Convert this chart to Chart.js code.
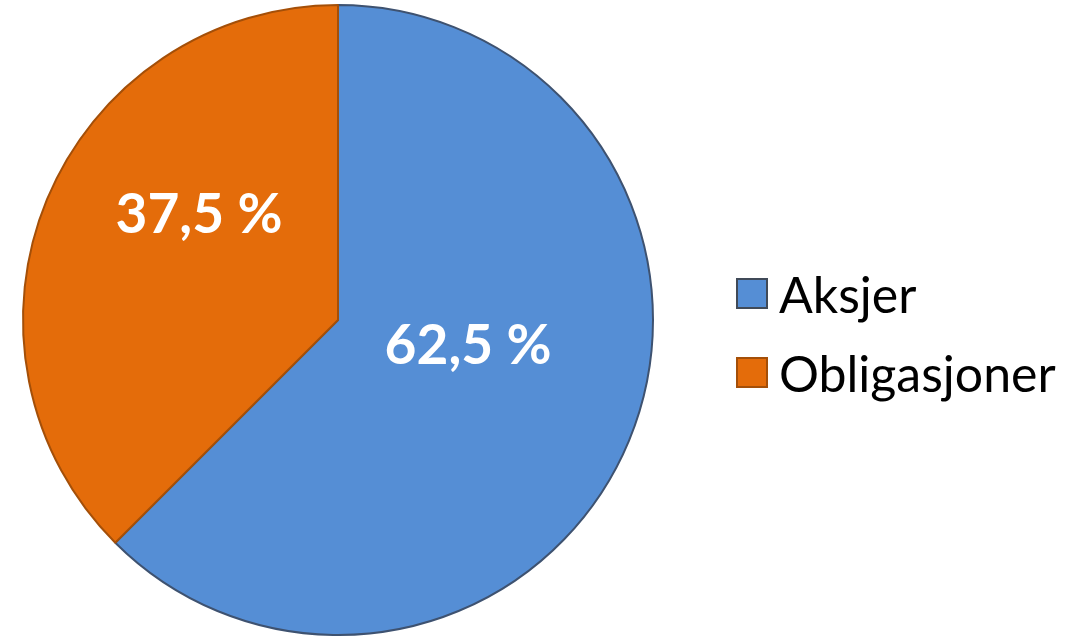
<!DOCTYPE html>
<html>
<head>
<meta charset="utf-8">
<script src="https://cdn.jsdelivr.net/npm/chart.js@4.4.0/dist/chart.umd.min.js"></script>
<style>
  html, body { margin: 0; padding: 0; background: #fff; }
  #wrap { position: relative; width: 1082px; height: 636px; }
  #legend { position: absolute; left: 736px; top: 254px; font-family: Lato, "Open Sans", sans-serif; font-size: 50px; color: #000; }
  #legend .item { display: flex; align-items: center; height: 79px; }
  #legend .box { width: 28px; height: 27px; border: 2px solid #404040; margin-right: 11px; flex: none; }
</style>
</head>
<body>
<div id="wrap">
  <canvas id="pieChart"></canvas>
  <div id="legend"></div>
</div>
<script>
const categories = ['Aksjer', 'Obligasjoner'];
const shares = [62.5, 37.5];
const sliceLabels = ['62,5 %', '37,5 %'];

const sliceColors = ['#558ed5', '#e46c0a'];
const sliceBorders = ['#3e5270', '#a44f08'];
const legendBorders = ['#404a58', '#a44f08'];

// where each value label sits: shift from mid angle (deg) and share of radius
const labelPlacement = [
    { shift: -12, dist: 0.42 },
    { shift: 15, dist: 0.556 }
];

const sliceLabelPlugin = {
    id: 'sliceLabels',
    afterDatasetsDraw(chart) {
        const ctx = chart.ctx;
        const meta = chart.getDatasetMeta(0);
        const size = 55;
        ctx.save();
        ctx.font = 'bold ' + size + 'px Lato, "Open Sans", sans-serif';
        ctx.fillStyle = '#ffffff';
        ctx.textAlign = 'center';
        ctx.textBaseline = 'alphabetic';
        meta.data.forEach(function (arc, i) {
            const p = arc.getProps(['x', 'y', 'startAngle', 'endAngle', 'outerRadius'], true);
            const mid = (p.startAngle + p.endAngle) / 2 + labelPlacement[i].shift * Math.PI / 180;
            const r = p.outerRadius * labelPlacement[i].dist;
            // baseline so the digits are centred on the point
            ctx.fillText(sliceLabels[i], p.x + Math.cos(mid) * r, p.y + Math.sin(mid) * r + size * 0.36);
        });
        ctx.restore();
    }
};

const pieChart = new Chart(document.getElementById('pieChart'), {
    type: 'pie',
    data: {
        labels: categories,
        datasets: [{
            data: shares,
            backgroundColor: sliceColors,
            borderColor: sliceBorders,
            borderWidth: 2
        }]
    },
    options: {
        responsive: true,
        maintainAspectRatio: false,
        animation: false,
        layout: { padding: { left: 22, right: 428, top: 4, bottom: 0 } },
        plugins: {
            legend: { display: false },
            tooltip: { enabled: false }
        }
    },
    plugins: [sliceLabelPlugin]
});

// legend built from the same arrays
const legendEl = document.getElementById('legend');
categories.forEach(function (name, i) {
    const item = document.createElement('div');
    item.className = 'item';
    const box = document.createElement('span');
    box.className = 'box';
    box.style.background = sliceColors[i];
    box.style.borderColor = legendBorders[i];
    const text = document.createElement('span');
    text.textContent = name;
    item.appendChild(box);
    item.appendChild(text);
    legendEl.appendChild(item);
});
</script>
</body>
</html>
